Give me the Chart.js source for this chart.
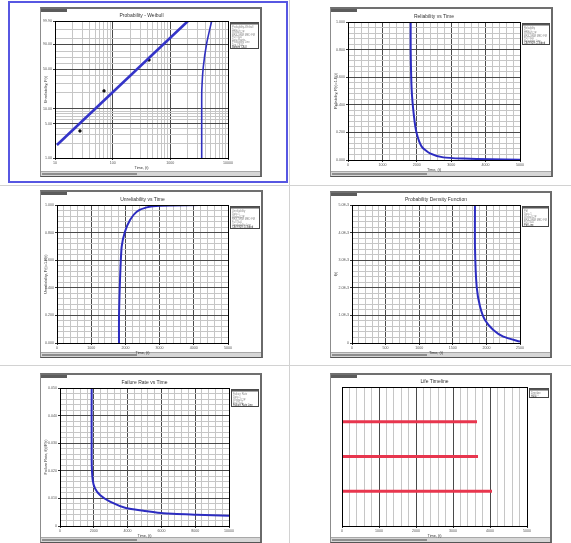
<!DOCTYPE html>
<html>
<head>
<meta charset="utf-8">
<title>Life Data Plots</title>
<script src="https://cdn.jsdelivr.net/npm/chart.js@4/dist/chart.umd.min.js"></script>
<style>
  html, body { margin: 0; padding: 0; background: #fff; }
  body { width: 571px; height: 543px; position: relative; overflow: hidden; font-family: 'Liberation Sans', Arial, sans-serif; }
  .hsep { position: absolute; left: 0; width: 571px; height: 1px; background: #d2d2d2; }
  .vsep { position: absolute; top: 0; width: 1px; height: 543px; background: #d2d2d2; }
  .sel { position: absolute; left: 8px; top: 1px; width: 280px; height: 182px; border: 2px solid #5757e2; box-sizing: border-box; }
  .frame { position: absolute; box-sizing: border-box; background: #fff;
           border: 1px solid #8c8c8c; border-top: 2px solid #707070; border-right: 2px solid #6a6a6a; border-bottom: 1px solid #555; }
  .frame .tab { position: absolute; left: 0; top: 0; width: 26px; height: 3px; background: #5c5c5c; }
  .frame .status { position: absolute; left: 0; right: 0; bottom: 0; height: 4px; background: #d6d6d6; border-top: 1px solid #a8a8a8; }
  .frame .status i { position: absolute; left: 1px; top: 1px; width: 95px; height: 2px; background: #8e8e8e; }
  canvas { position: absolute; }
</style>
</head>
<body>
<div class="vsep" style="left:289px"></div>
<div class="hsep" style="top:185px"></div>
<div class="hsep" style="top:365px"></div>
<div class="sel"></div>

<canvas id="c1"></canvas>
<canvas id="c2"></canvas>
<canvas id="c3"></canvas>
<canvas id="c4"></canvas>
<canvas id="c5"></canvas>
<canvas id="c6"></canvas>

<script>
// ---------- Probability - Weibull ----------
const probLineTime  = [10.8, 2024];
const probLineF     = [1.85, 99.9];
const probPointTime = [27.1, 70.8, 427];
const probPointF    = [3.58, 21.8, 65.9];
const probBoundTime = [3500, 3500, 3515, 3730, 4280, 5210];
const probBoundF    = [1, 10, 22.7, 53.9, 91.1, 99.9];
const probTimeTicks = [10, 100, 1000, 10000];
const probGridF     = [1, 2, 3, 4, 5, 6, 7, 8, 9, 10, 20, 30, 40, 50, 60, 70, 80, 90, 95, 99, 99.9];
const probLabelF    = [1, 5, 10, 50, 90, 99.9];

// ---------- Reliability vs Time ----------
const relTime  = [1822, 1822, 1851, 1919, 1996, 2142, 2384, 2771, 3353, 4128, 5000];
const relValue = [1.0, 0.797, 0.507, 0.314, 0.193, 0.097, 0.048, 0.019, 0.010, 0.005, 0.002];

// ---------- Unreliability vs Time ----------
const unrelTime  = [1813, 1813, 1842, 1891, 1988, 2135, 2330, 2622, 3012, 4181, 5000];
const unrelValue = [0, 0.203, 0.457, 0.698, 0.807, 0.891, 0.951, 0.983, 0.995, 1.0, 1.0];

const timeLabels5000 = ['0', '1000', '2000', '3000', '4000', '5000'];
const fractionLabels = ['0.000', '0.200', '0.400', '0.600', '0.800', '1.000'];

// ---------- Probability Density Function ----------
const pdfTime  = [1830, 1830, 1855, 1905, 1979, 2103, 2252, 2500];
const pdfValue = [0.0050, 0.00349, 0.00204, 0.00132, 0.00083, 0.00047, 0.00023, 0.00005];
const pdfTimeLabels  = ['0', '500', '1000', '1500', '2000', '2500'];
const pdfValueLabels = ['0', '1.0E-3', '2.0E-3', '3.0E-3', '4.0E-3', '5.0E-3'];

// ---------- Failure Rate vs Time ----------
const frTime  = [1874, 1874, 1933, 2071, 2367, 2959, 3945, 4931, 6114, 8087, 10000];
const frValue = [0.0499, 0.0239, 0.01667, 0.01365, 0.01123, 0.0088, 0.0064, 0.00555, 0.0046, 0.0041, 0.0037];
const frTimeLabels  = ['0', '2000', '4000', '6000', '8000', '10000'];
const frValueLabels = ['0', '0.010', '0.020', '0.030', '0.040', '0.050'];

// ---------- Life Timeline ----------
const timelineLevels = [3, 2, 1];
const timelineEnds   = [3649, 3676, 4054];

// ---------- legend texts ----------
const legendProb  = ['Probability-Weibull', 'Data 1', 'Weibull-2P', 'RRX SRM MED FM', 'F=7/S=0', 'Data Points', 'Probability Line', 'Top CB-II', 'Bottom CB-II'];
const legendRel   = ['Reliability', 'Data 1', 'Weibull-2P', 'RRX SRM MED FM', 'F=7/S=0', 'Reliability Line', 'CB@90% 2-Sided'];
const legendUnrel = ['Unreliability', 'Data 1', 'Weibull-2P', 'RRX SRM MED FM', 'F=7/S=0', 'Unreliability Line', 'CB@90% 2-Sided'];
const legendPdf   = ['Pdf', 'Data 1', 'Weibull-2P', 'RRX SRM MED FM', 'F=7/S=0', 'Pdf Line'];
const legendFr    = ['Failure Rate', 'Data 1', 'Weibull-2P', 'F=7/S=0', 'Failure Rate Line'];
const legendLine  = ['Timeline', 'Data 1', 'Units'];

// ================= drawing helpers =================
const FONT = "'Liberation Sans', Arial, sans-serif";
const MAJOR = '#4a4a4a';
const MINOR = '#c6c6c6';
const CURVE = '#2c2cc0';

function weib(p) { return Math.log(-Math.log(1 - p / 100)); }

function pts(xs, ys, fy) {
  return xs.map((x, i) => ({ x: x, y: fy ? fy(ys[i]) : ys[i] }));
}

// evenly spaced ticks, majors every `per` ticks
function evenTicks(min, max, majorCount, per) {
  return function (scale) {
    const n = majorCount * per;
    const out = [];
    for (let i = 0; i <= n; i++) out.push({ value: min + (max - min) * i / n });
    scale.ticks = out;
  };
}

function linAxis(min, max, labels, size, isX, per) {
  per = per || 5;
  const majors = labels.length - 1;
  return {
    type: 'linear', min: min, max: max,
    afterBuildTicks: evenTicks(min, max, majors, per),
    afterFit: isX ? (s) => { s.height = size; } : (s) => { s.width = size; },
    ticks: {
      autoSkip: false, maxRotation: 0, padding: 1, color: '#555',
      font: { family: FONT, size: 3.6 },
      callback: (v, i) => (i % per === 0 ? labels[i / per] : '')
    },
    grid: {
      color: (c) => (c.index % per === 0 ? MAJOR : MINOR),
      tickColor: (c) => (c.index % per === 0 ? '#333' : 'rgba(0,0,0,0)'),
      tickLength: 2, lineWidth: 1
    },
    border: { color: '#000', width: 1 }
  };
}

function decorPlugin(title, xTitle, yTitle, legendLines, legendH) {
  return {
    id: 'decor',
    afterDraw(chart) {
      const ctx = chart.ctx, a = chart.chartArea;
      ctx.save();
      // plot frame
      ctx.strokeStyle = '#000';
      ctx.lineWidth = 1;
      ctx.strokeRect(Math.round(a.left) + 0.5, Math.round(a.top) + 0.5,
                     Math.round(a.right - a.left), Math.round(a.bottom - a.top));
      // titles
      ctx.fillStyle = '#333';
      ctx.textAlign = 'center';
      ctx.textBaseline = 'middle';
      ctx.font = '5px ' + FONT;
      ctx.fillText(title, (a.left + a.right) / 2, a.top - 5.5);
      ctx.font = '3.8px ' + FONT;
      if (xTitle) ctx.fillText(xTitle, (a.left + a.right) / 2, a.bottom + 9.5);
      if (yTitle) {
        ctx.translate(6, (a.top + a.bottom) / 2);
        ctx.rotate(-Math.PI / 2);
        ctx.fillText(yTitle, 0, 0);
        ctx.setTransform(1, 0, 0, 1, 0, 0);
      }
      // legend box
      const lx = Math.round(a.right) + 2.5, ly = Math.round(a.top) + 1.5;
      const lw = chart.width - lx - 3.5;
      ctx.fillStyle = '#fff';
      ctx.fillRect(lx, ly, lw, legendH);
      ctx.strokeStyle = '#444';
      ctx.strokeRect(lx, ly, lw, legendH);
      ctx.fillStyle = '#555';
      ctx.fillRect(lx, ly, lw, 2);
      ctx.textAlign = 'left';
      ctx.font = '2.6px ' + FONT;
      const step = (legendH - 3) / legendLines.length;
      legendLines.forEach((t, i) => {
        ctx.fillStyle = i === legendLines.length - 1 ? '#333' : '#8a8a8a';
        ctx.fillText(t, lx + 1.5, ly + 3.5 + step * (i + 0.5));
      });
      ctx.restore();
    }
  };
}

function makeChart(id, frame, plot, scales, datasets, decor) {
  const holder = document.createElement('div');
  holder.className = 'frame';
  holder.style.left = frame.x + 'px';
  holder.style.top = frame.y + 'px';
  holder.style.width = frame.w + 'px';
  holder.style.height = frame.h + 'px';
  holder.innerHTML = '<div class="tab"></div><div class="status"><i></i></div>';
  const cv = document.getElementById(id);
  document.body.insertBefore(holder, cv);
  cv.width = frame.w; cv.height = frame.h;
  cv.style.left = frame.x + 'px';
  cv.style.top = frame.y + 'px';
  cv.style.width = frame.w + 'px';
  cv.style.height = frame.h + 'px';
  return new Chart(cv, {
    type: 'scatter',
    data: { datasets: datasets },
    options: {
      responsive: false, animation: false, devicePixelRatio: 1, events: [],
      layout: { padding: { left: 0, bottom: 0, top: plot.t - frame.y, right: frame.x + frame.w - plot.r } },
      plugins: { legend: { display: false }, tooltip: { enabled: false }, title: { display: false } },
      scales: scales
    },
    plugins: [decor]
  });
}

function curve(data, color, width) {
  return { data: data, showLine: true, borderColor: color || CURVE, borderWidth: width || 2,
           pointRadius: 0, tension: 0.2, fill: false };
}

// ================= panels =================
// 1. Probability - Weibull (log time vs Weibull-scaled unreliability)
(function () {
  const frame = { x: 40, y: 7, w: 222, h: 170 };
  const plot = { l: 55, t: 21, r: 228, b: 158 };
  const logTicks = [];
  for (let d = 10; d < 10000; d *= 10) for (let k = 1; k <= 9; k++) logTicks.push(k * d);
  logTicks.push(10000);
  const scales = {
    x: {
      type: 'logarithmic', min: 10, max: 10000,
      afterBuildTicks: (s) => { s.ticks = logTicks.map(v => ({ value: v })); },
      afterFit: (s) => { s.height = frame.y + frame.h - plot.b; },
      ticks: { autoSkip: false, maxRotation: 0, padding: 1, color: '#555', font: { family: FONT, size: 3.6 },
               callback: (v) => (probTimeTicks.includes(v) ? String(v) : '') },
      grid: { color: (c) => (probTimeTicks.includes(c.tick.value) ? MAJOR : MINOR),
              tickColor: (c) => (probTimeTicks.includes(c.tick.value) ? '#333' : 'rgba(0,0,0,0)'), tickLength: 2 },
      border: { color: '#000' }
    },
    y: {
      type: 'linear', min: weib(1), max: weib(99.9),
      afterBuildTicks: (s) => { s.ticks = probGridF.map(f => ({ value: weib(f) })); },
      afterFit: (s) => { s.width = plot.l - frame.x; },
      ticks: { autoSkip: false, padding: 1, color: '#555', font: { family: FONT, size: 3.6 },
               callback: (v, i) => (probLabelF.includes(probGridF[i]) ? probGridF[i].toFixed(2) : '') },
      grid: { color: (c) => (probLabelF.includes(probGridF[c.index]) ? MAJOR : MINOR),
              tickColor: (c) => (probLabelF.includes(probGridF[c.index]) ? '#333' : 'rgba(0,0,0,0)'), tickLength: 2 },
      border: { color: '#000' }
    }
  };
  const ds = [
    Object.assign(curve(pts(probLineTime, probLineF, weib), '#3434c8', 2.6), { tension: 0 }),
    curve(pts(probBoundTime, probBoundF, weib), '#3030c0', 1.6),
    { data: pts(probPointTime, probPointF, weib), showLine: false, pointRadius: 1.4,
      pointBackgroundColor: '#111', pointBorderColor: '#111', pointBorderWidth: 0.5 }
  ];
  makeChart('c1', frame, plot, scales, ds,
    decorPlugin('Probability - Weibull', 'Time, (t)', 'Unreliability, F(t)', legendProb, 26));
})();

// 2. Reliability vs Time
(function () {
  const frame = { x: 330, y: 7, w: 223, h: 170 };
  const plot = { l: 348, t: 22, r: 520, b: 160 };
  const scales = {
    x: linAxis(0, 5000, timeLabels5000, frame.y + frame.h - plot.b, true),
    y: linAxis(0, 1, fractionLabels, plot.l - frame.x, false)
  };
  makeChart('c2', frame, plot, scales, [curve(pts(relTime, relValue))],
    decorPlugin('Reliability vs Time', 'Time, (t)', 'Reliability, R(t)=1-F(t)', legendRel, 21));
})();

// 3. Unreliability vs Time
(function () {
  const frame = { x: 40, y: 190, w: 223, h: 168 };
  const plot = { l: 57, t: 205, r: 228, b: 343 };
  const scales = {
    x: linAxis(0, 5000, timeLabels5000, frame.y + frame.h - plot.b, true),
    y: linAxis(0, 1, fractionLabels, plot.l - frame.x, false)
  };
  makeChart('c3', frame, plot, scales, [curve(pts(unrelTime, unrelValue))],
    decorPlugin('Unreliability vs Time', 'Time, (t)', 'Unreliability, F(t)=1-R(t)', legendUnrel, 22));
})();

// 4. Probability Density Function
(function () {
  const frame = { x: 330, y: 191, w: 222, h: 167 };
  const plot = { l: 352, t: 205, r: 520, b: 343 };
  const scales = {
    x: linAxis(0, 2500, pdfTimeLabels, frame.y + frame.h - plot.b, true),
    y: linAxis(0, 0.005, pdfValueLabels, plot.l - frame.x, false)
  };
  makeChart('c4', frame, plot, scales, [curve(pts(pdfTime, pdfValue))],
    decorPlugin('Probability Density Function', 'Time, (t)', 'f(t)', legendPdf, 20));
})();

// 5. Failure Rate vs Time
(function () {
  const frame = { x: 40, y: 373, w: 222, h: 170 };
  const plot = { l: 60, t: 388, r: 229, b: 526 };
  const scales = {
    x: linAxis(0, 10000, frTimeLabels, frame.y + frame.h - plot.b, true),
    y: linAxis(0, 0.05, frValueLabels, plot.l - frame.x, false)
  };
  makeChart('c5', frame, plot, scales, [curve(pts(frTime, frValue))],
    decorPlugin('Failure Rate vs Time', 'Time, (t)', 'Failure Rate, f(t)/R(t)', legendFr, 17));
})();

// 6. Life Timeline
(function () {
  const frame = { x: 330, y: 373, w: 222, h: 170 };
  const plot = { l: 342, t: 387, r: 527, b: 526 };
  const x = linAxis(0, 5000, timeLabels5000, frame.y + frame.h - plot.b, true);
  const scales = {
    x: x,
    y: { type: 'linear', min: 0, max: 4,
         afterFit: (s) => { s.width = plot.l - frame.x; },
         ticks: { display: false }, grid: { display: false }, border: { color: '#000' } }
  };
  const ds = [];
  timelineLevels.forEach((lv, i) => {
    const seg = [{ x: 0, y: lv }, { x: timelineEnds[i], y: lv }];
    ds.push({ data: seg, showLine: true, borderColor: '#e8364e', borderWidth: 3.2, pointRadius: 0, tension: 0 });
    ds.push({ data: seg, showLine: true, borderColor: '#7b1f4a', borderWidth: 1, pointRadius: 0, tension: 0 });
  });
  makeChart('c6', frame, plot, scales, ds,
    decorPlugin('Life Timeline', 'Time, (t)', '', legendLine, 9));
})();
</script>
</body>
</html>
